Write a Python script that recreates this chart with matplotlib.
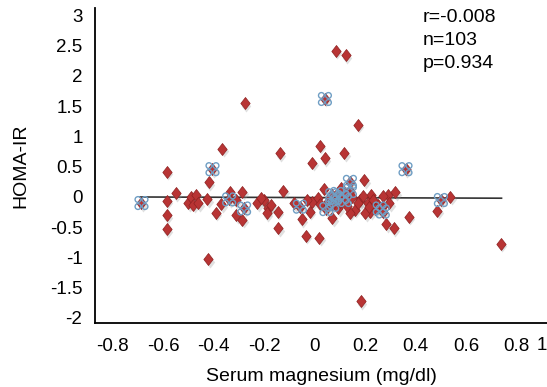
import matplotlib
matplotlib.use("Agg")
import matplotlib.pyplot as plt
import matplotlib.transforms as mtransforms
from matplotlib.path import Path

plt.rcParams['font.family'] = ['Liberation Sans', 'DejaVu Sans']

# Valeurs
mg_x = [-0.685, -0.586, -0.586, -0.586, -0.586, -0.55, -0.50, -0.49, -0.47, -0.48,
        -0.46, -0.425, -0.418, -0.404, -0.392, -0.365, -0.369, -0.335, -0.338, -0.311,
        -0.309, -0.286, -0.279, -0.286, -0.276, -0.421, -0.227, -0.20, -0.184, -0.173,
        -0.19, -0.146, -0.144, -0.137, -0.124, -0.058, -0.051, -0.019, -0.012, -0.034,
        0.018, 0.012, -0.01, 0.021, 0.041, 0.038, 0.041, 0.084, 0.123, 0.117,
        0.17, 0.05, 0.047, 0.07, 0.093, 0.07, 0.09, 0.08, 0.11, 0.14,
        0.14, 0.12, 0.15, 0.07, 0.16, 0.14, 0.196, 0.225, 0.21, 0.22,
        0.20, 0.25, 0.258, 0.182, 0.29, 0.32, 0.295, 0.265, 0.27, 0.284,
        0.313, 0.373, 0.36, 0.50, 0.538, 0.485, 0.737, 0.10, 0.13, 0.18,
        0.23, -0.03, 0.06, 0.17, 0.24, -0.08, 0.105, 0.19, 0.13, 0.02,
        0.27, -0.21, 0.215]
homa_y = [-0.10, 0.42, -0.06, -0.30, -0.53, 0.06, -0.10, 0.00, 0.04, -0.13,
          -0.10, -0.04, 0.24, 0.46, -0.26, 0.80, -0.12, 0.09, -0.04, -0.05,
          -0.30, 0.09, -0.19, -0.38, 1.55, -1.03, -0.10, -0.05, -0.19, -0.13,
          -0.27, -0.24, -0.52, 0.72, 0.10, -0.16, -0.37, -0.24, -0.09, -0.64,
          -0.67, -0.02, 0.57, 0.85, 0.64, 0.13, 1.62, 2.42, 2.34, 0.72,
          1.19, -0.10, -0.20, -0.35, -0.19, 0.03, 0.05, -0.02, 0.00, 0.25,
          0.10, -0.05, 0.00, -0.13, -0.21, -0.26, 0.28, 0.03, -0.10, -0.24,
          -0.27, -0.13, -0.19, -1.72, 0.03, 0.08, -0.10, -0.16, -0.24, -0.45,
          -0.52, -0.33, 0.46, -0.05, 0.00, -0.23, -0.77, -0.08, -0.15, -0.05,
          -0.05, -0.05, 0.00, -0.10, -0.20, -0.10, 0.15, 0.02, 0.05, -0.12,
          0.02, -0.02, -0.17]

# points entourés de cercles bleus
ring_x = [-0.685, -0.404, -0.338, -0.279, -0.058, 0.041, 0.047, 0.07, 0.09, 0.08,
          0.11, 0.14, 0.14, 0.12, 0.07, 0.258, 0.27, 0.36, 0.50]
ring_y = [-0.10, 0.46, -0.04, -0.19, -0.16, 1.62, -0.20, 0.03, 0.05, -0.02,
          0.00, 0.25, 0.10, -0.05, -0.13, -0.19, -0.24, 0.46, -0.05]

# droite de tendance
trend_x = [-0.69, 0.74]
trend_y = [0.00, -0.02]

x_ticks = [-0.8, -0.6, -0.4, -0.2, 0, 0.2, 0.4, 0.6, 0.8]
y_ticks = [-2, -1.5, -1, -0.5, 0, 0.5, 1, 1.5, 2, 2.5, 3]

# marqueurs
diamond = Path([(0, 1), (0.78, 0), (0, -1), (-0.78, 0), (0, 1)],
               [Path.MOVETO, Path.LINETO, Path.LINETO, Path.LINETO, Path.CLOSEPOLY])
circles = []
for dx, dy in [(-0.55, 0.55), (0.55, 0.55), (-0.55, -0.55), (0.55, -0.55)]:
    c = Path.circle((dx, dy), 0.45)
    circles.append(c)
rings = Path.make_compound_path(*circles)

fig = plt.figure(figsize=(5.47, 3.87), dpi=100)
ax = fig.add_axes([95 / 547, 64 / 387, 452 / 547, 315 / 387])
ax.set_xlim(-0.869, 0.92)
ax.set_ylim(-2.083, 3.124)

ax.plot(trend_x, trend_y, color='#333333', lw=1.2, zorder=2)

shadow = mtransforms.offset_copy(ax.transData, fig=fig, x=1.5, y=-2.5, units='dots')
ax.scatter(mg_x, homa_y, marker=diamond, s=75, color='#999999', alpha=0.3,
           linewidths=0, transform=shadow, zorder=3)
ax.scatter(mg_x, homa_y, marker=diamond, s=75, facecolor='#b83434',
           edgecolor='#8e2222', linewidths=0.5, zorder=4)
ax.scatter(ring_x, ring_y, marker=rings, s=85, facecolor='none',
           edgecolor='#6f9ec4', linewidths=1.0, zorder=5)

ax.spines['top'].set_visible(False)
ax.spines['right'].set_visible(False)
ax.spines['left'].set_linewidth(1.3)
ax.spines['bottom'].set_linewidth(1.3)
ax.set_xticks(x_ticks)
ax.set_xticklabels(['-0.8', '-0.6', '-0.4', '-0.2', '0', '0.2', '0.4', '0.6', '0.8'])
ax.set_yticks(y_ticks)
ax.set_yticklabels(['-2', '-1.5', '-1', '-0.5', '0', '0.5', '1', '1.5', '2', '2.5', '3'])
ax.tick_params(axis='x', length=0, pad=10.5, labelsize=13.5)
ax.tick_params(axis='y', length=0, pad=9, labelsize=13.5)
fig.text(542 / 547, 1 - 346 / 387, '1', fontsize=13.5, ha='center', va='center')

ax.set_xlabel('Serum magnesium (mg/dl)', fontsize=14, labelpad=10)
ax.set_ylabel('HOMA-IR', fontsize=14, labelpad=15)

fig.text(423 / 547, 1 - 9 / 387, 'r=-0.008\nn=103\np=0.934', fontsize=14,
         ha='left', va='top', linespacing=1.45)

fig.savefig('out.png', dpi=100)
